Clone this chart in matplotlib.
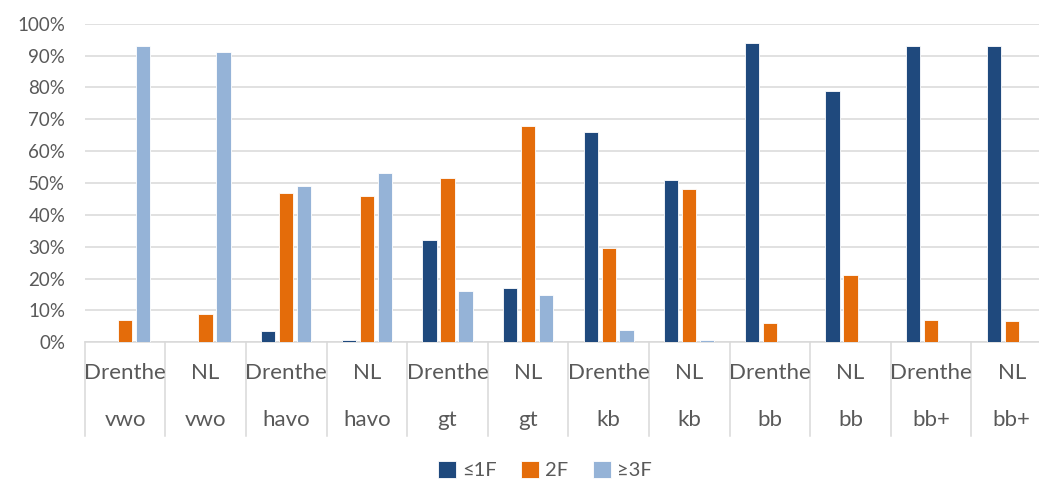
import numpy as np
import matplotlib
matplotlib.use('Agg')
import matplotlib.pyplot as plt
from matplotlib.ticker import PercentFormatter
import matplotlib.transforms as mtransforms

# data (percent)
regions = ['Drenthe', 'NL'] * 6
levels = ['vwo', 'vwo', 'havo', 'havo', 'gt', 'gt', 'kb', 'kb', 'bb', 'bb', 'bb+', 'bb+']
le1f = [0, 0, 3.5, 0.7, 32, 17, 66, 51, 94, 79, 93, 93]
f2 = [7, 9, 47, 46, 51.7, 68, 29.5, 48, 6, 21, 7, 6.8]
ge3f = [93, 91, 49, 53, 16, 14.8, 4, 0.7, 0, 0, 0, 0]
series_names = ['≤1F', '2F', '≥3F']
colors = ['#1F497D', '#E46C0A', '#95B3D7']

plt.rcParams['font.family'] = ['Lato', 'DejaVu Sans']
text_color = '#595959'
grid_color = '#D9D9D9'

fig = plt.figure(figsize=(10.39, 4.8), dpi=100)
# axes extends slightly past the right edge, like the source image
ax = fig.add_axes([84.7 / 1039, 1 - 342.3 / 480, (1052 - 84.7) / 1039, (342.3 - 23.7) / 480])

x = np.arange(len(regions))
width = 0.177
step = 0.223
for k, (vals, name) in enumerate(zip([le1f, f2, ge3f], series_names)):
    ax.bar(x + (k - 1) * step, vals, width, color=colors[k], label=name,
           edgecolor='white', linewidth=0.6, zorder=3)

ax.set_xlim(-0.5, len(regions) - 0.5)
ax.set_ylim(0, 100)
ax.set_yticks(np.arange(0, 101, 10))
ax.yaxis.set_major_formatter(PercentFormatter(decimals=0))
ax.tick_params(axis='y', length=0, labelsize=13.5, labelcolor=text_color, pad=14)
ax.set_xticks([])
ax.grid(axis='y', color=grid_color, linewidth=1.1, zorder=0)
for s in ['top', 'right', 'left']:
    ax.spines[s].set_visible(False)
ax.spines['bottom'].set_color(grid_color)
ax.spines['bottom'].set_linewidth(1.1)

# two-level category axis
trans = mtransforms.blended_transform_factory(ax.transData, ax.transAxes)
for i in range(len(regions)):
    ax.text(i, -0.096, regions[i], transform=trans, ha='center', va='center',
            fontsize=16, color=text_color)
    ax.text(i, -0.244, levels[i], transform=trans, ha='center', va='center',
            fontsize=16, color=text_color)
for b in np.arange(len(regions) + 1) - 0.5:
    ax.plot([b, b], [0, -0.294], transform=trans, color=grid_color,
            linewidth=1.1, clip_on=False)

fig.legend(loc='center', bbox_to_anchor=(545 / 1039, 1 - 470 / 480), ncol=3,
           frameon=False, fontsize=14.5, labelcolor=text_color,
           handlelength=0.9, handleheight=0.9, handletextpad=0.3, columnspacing=1.2)

fig.savefig('out.png', dpi=100)
